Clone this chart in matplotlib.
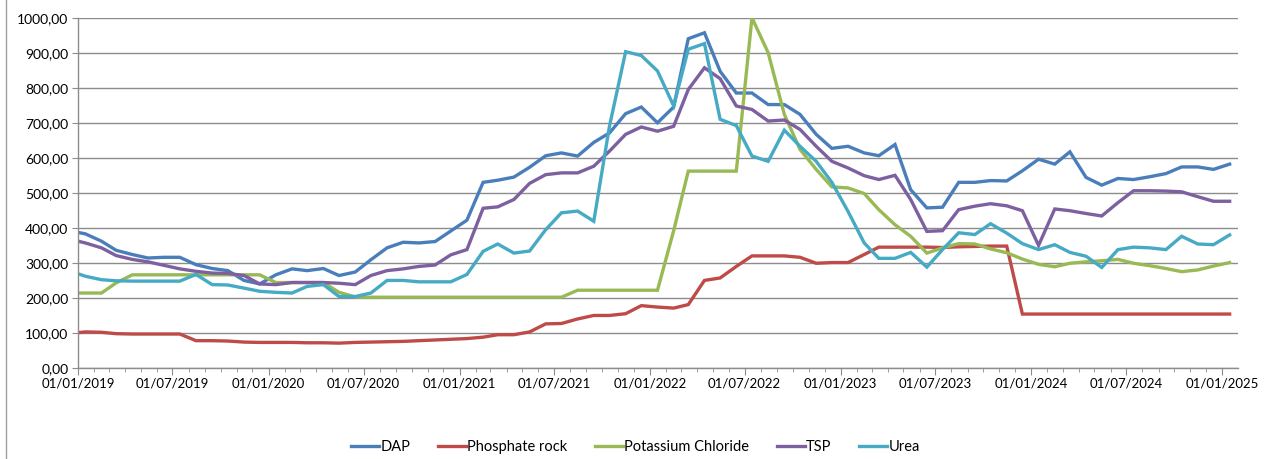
import matplotlib
matplotlib.use("Agg")
import matplotlib.pyplot as plt
import matplotlib.dates as mdates
from matplotlib.ticker import FuncFormatter, MultipleLocator
from matplotlib.lines import Line2D
import pandas as pd

plt.rcParams['font.family'] = ['Lato', 'DejaVu Sans']

# x: first observation on 01/01/2019, then mid-month observations Jan 2019 .. Jan 2025
first_date = ["2019-01-01"]
mid_months = [f"{y}-{m:02d}-15" for y in range(2019, 2026) for m in range(1, 13)][:73]
dates = pd.to_datetime(first_date + mid_months)

dap = [387, 383, 362, 336, 324, 314, 316, 316, 295, 284, 278, 250, 240, 266, 283, 278,
       284, 264, 274, 309, 343, 359, 357, 361, 391, 422, 530, 536, 545, 573, 606, 614,
       605, 644, 671, 726, 745, 700, 745, 940, 957, 847, 785, 785, 752, 752, 724, 667,
       627, 633, 614, 606, 638, 509, 457, 459, 530, 530, 535, 534, 563, 596, 582, 617,
       544, 522, 541, 538, 546, 555, 574, 574, 567, 582]

phosphate_rock = [101, 103, 102, 98, 97, 97, 97, 97, 78, 78, 77, 74, 73, 73, 73, 72,
                  72, 71, 73, 74, 75, 76, 78, 80, 82, 84, 88, 95, 95, 103, 126, 127,
                  140, 150, 150, 155, 178, 174, 171, 181, 250, 257, 290, 320, 320, 320, 316, 299,
                  301, 301, 324, 345, 345, 345, 345, 344, 346, 347, 348, 348, 154, 154, 154, 154,
                  154, 154, 154, 154, 154, 154, 154, 154, 154, 154]

potassium_chloride = [214, 214, 214, 243, 266, 266, 266, 266, 266, 266, 266, 266, 266, 244, 244, 244,
                      244, 216, 203, 202, 202, 202, 202, 202, 202, 202, 202, 202, 202, 202, 202, 202,
                      222, 222, 222, 222, 222, 222, 392, 562, 562, 562, 562, 1000, 900, 724, 624, 567,
                      517, 514, 498, 452, 409, 376, 328, 343, 355, 354, 340, 329, 311, 296, 289, 299,
                      303, 306, 310, 299, 292, 284, 275, 280, 291, 301]

tsp = [362, 357, 343, 321, 310, 303, 293, 283, 276, 271, 270, 264, 240, 238, 244, 244,
       244, 242, 238, 264, 278, 283, 290, 294, 323, 338, 456, 460, 481, 527, 552, 557,
       557, 576, 619, 667, 688, 676, 690, 795, 857, 826, 748, 738, 705, 708, 681, 633,
       590, 571, 549, 538, 550, 481, 390, 392, 452, 462, 469, 463, 449, 350, 454, 449,
       441, 434, 472, 506, 506, 505, 503, 489, 476, 476]

urea = [269, 262, 252, 249, 248, 248, 248, 248, 267, 238, 237, 228, 219, 216, 214, 233,
        238, 204, 204, 214, 250, 250, 246, 246, 246, 267, 333, 354, 328, 334, 395, 443,
        448, 419, 690, 903, 892, 848, 748, 910, 926, 710, 692, 605, 590, 679, 633, 590,
        530, 447, 357, 313, 313, 330, 288, 338, 386, 381, 412, 385, 355, 338, 352, 330,
        319, 287, 338, 345, 343, 338, 376, 354, 352, 380]

series_names = ["DAP", "Phosphate rock", "Potassium Chloride", "TSP", "Urea"]
series_values = [dap, phosphate_rock, potassium_chloride, tsp, urea]
colors = ["#4A7EBB", "#BE4B48", "#98B954", "#7D60A0", "#46AAC5"]

fig = plt.figure(figsize=(12.71, 4.59), dpi=100)
ax = fig.add_axes([78 / 1271, 1 - 368 / 459, (1238 - 78) / 1271, (368 - 17.7) / 459])

for name, vals, c in zip(series_names, series_values, colors):
    ax.plot(dates, vals, color=c, lw=2.4, label=name, solid_joinstyle='miter')

ax.set_ylim(0, 1000)
ax.set_xlim(pd.Timestamp("2019-01-01"), pd.Timestamp("2025-01-31"))
ax.yaxis.set_major_locator(MultipleLocator(100))
ax.yaxis.set_major_formatter(FuncFormatter(lambda v, p: f"{v:.2f}".replace(".", ",")))
ax.xaxis.set_major_locator(mdates.MonthLocator(bymonth=[1, 7], bymonthday=1))
ax.xaxis.set_minor_locator(mdates.MonthLocator(bymonthday=1))
ax.xaxis.set_major_formatter(mdates.DateFormatter("%d/%m/%Y"))

ax.grid(axis='y', color='#8c8c8c', lw=1.0)
ax.set_axisbelow(True)
for s in ['top', 'right']:
    ax.spines[s].set_visible(False)
for s in ['left', 'bottom']:
    ax.spines[s].set_color('#8c8c8c')
    ax.spines[s].set_linewidth(1.0)

ax.tick_params(axis='y', which='major', length=4, color='#8c8c8c', labelsize=10, pad=3)
ax.tick_params(axis='x', which='major', length=5, color='#8c8c8c', labelsize=9.5, pad=2)
ax.tick_params(axis='x', which='minor', length=3, color='#8c8c8c')

leg = fig.legend(loc='center', bbox_to_anchor=(0.5, 1 - 447 / 459), ncol=5, frameon=False,
                 fontsize=10.5, handlelength=1.9, columnspacing=1.9, handletextpad=0.1)

fig.add_artist(Line2D([6 / 1271, 6 / 1271], [0, 1], color='#a0a0a0', lw=1.0,
                      transform=fig.transFigure))

fig.savefig("out.png", dpi=100)
